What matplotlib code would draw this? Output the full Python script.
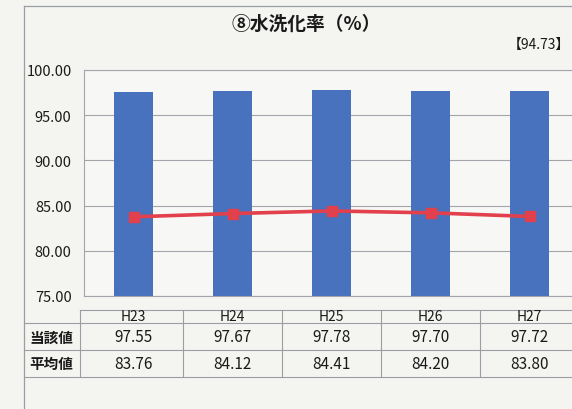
import numpy as np
import matplotlib
matplotlib.use("Agg")
import matplotlib.pyplot as plt
from matplotlib.lines import Line2D

plt.rcParams['font.family'] = ['Noto Sans CJK JP', 'DejaVu Sans']

# data
years = ['H23', 'H24', 'H25', 'H26', 'H27']
own = [97.55, 97.67, 97.78, 97.70, 97.72]      # 当該値
avg = [83.76, 84.12, 84.41, 84.20, 83.80]      # 平均値
row_names = ['当該値', '平均値']
y_ticks = [75, 80, 85, 90, 95, 100]

W, H = 572, 410
fig = plt.figure(figsize=(W / 100, H / 100), dpi=100, facecolor='#f4f5f1')

# plot area (goes slightly past the right edge, like the scan)
ax = fig.add_axes([84 / W, (H - 297) / H, 495 / W, 226 / H])
ax.set_facecolor('#f7f8f5')

x = np.arange(len(years))
ax.bar(x, own, width=0.4, color='#4872bd', zorder=2)
ax.plot(x, avg, color='#e2404c', lw=2.6, marker='s', ms=7, zorder=3)

ax.set_xlim(-0.5, len(years) - 0.5)
ax.set_ylim(75, 100)
ax.set_yticks(y_ticks)
ax.set_yticklabels(['%.2f' % v for v in y_ticks], fontsize=10.5, color='#1a1a1a')
ax.tick_params(axis='y', length=0, pad=9)
ax.set_xticks([])
ax.grid(axis='y', color='#a2a6ab', lw=0.8, zorder=1)
for s in ax.spines.values():
    s.set_color('#a2a6ab')
    s.set_linewidth(0.8)

# data table under the plot (axes fraction in y, data in x)
trans = ax.get_xaxis_transform()
ys = [-0.062, -0.119, -0.239, -0.358]
lc = '#9a9ea4'
ax.plot([-0.54, 4.5], [ys[0], ys[0]], transform=trans, color=lc, lw=0.8, clip_on=False)
for yy in ys[1:]:
    ax.plot([-1.10, 4.5], [yy, yy], transform=trans, color=lc, lw=0.8, clip_on=False)
ax.plot([-0.54, -0.54], [ys[0], ys[-1]], transform=trans, color=lc, lw=0.8, clip_on=False)
for i in range(1, len(years)):
    ax.plot([i - 0.5, i - 0.5], [ys[0], ys[-1]], transform=trans, color=lc, lw=0.8, clip_on=False)

for i, yr in enumerate(years):
    ax.text(i, (ys[0] + ys[1]) / 2, yr, transform=trans, ha='center', va='center',
            fontsize=10, color='#1a1a1a')
    ax.text(i, (ys[1] + ys[2]) / 2, '%.2f' % own[i], transform=trans, ha='center',
            va='center', fontsize=11, color='#1a1a1a')
    ax.text(i, (ys[2] + ys[3]) / 2, '%.2f' % avg[i], transform=trans, ha='center',
            va='center', fontsize=11, color='#1a1a1a')
for j, name in enumerate(row_names):
    ax.text(-0.83, (ys[j + 1] + ys[j + 2]) / 2, name, transform=trans, ha='center',
            va='center', fontsize=10.5, fontweight='bold', color='#1a1a1a')

# outer chart frame
fig.add_artist(Line2D([24 / W, 24 / W], [0, 1 - 7 / H], color=lc, lw=0.9))
fig.add_artist(Line2D([24 / W, 1], [1 - 7 / H, 1 - 7 / H], color=lc, lw=0.9))

fig.text(306 / W, 1 - 24 / H, '⑧水洗化率（%）', ha='center', va='center',
         fontsize=13.5, fontweight='bold', color='#1a1a1a')
fig.text(570 / W, 1 - 45 / H, '【94.73】', ha='right', va='center', fontsize=10,
         color='#1a1a1a')

fig.savefig('out.png', dpi=100, facecolor=fig.get_facecolor())
